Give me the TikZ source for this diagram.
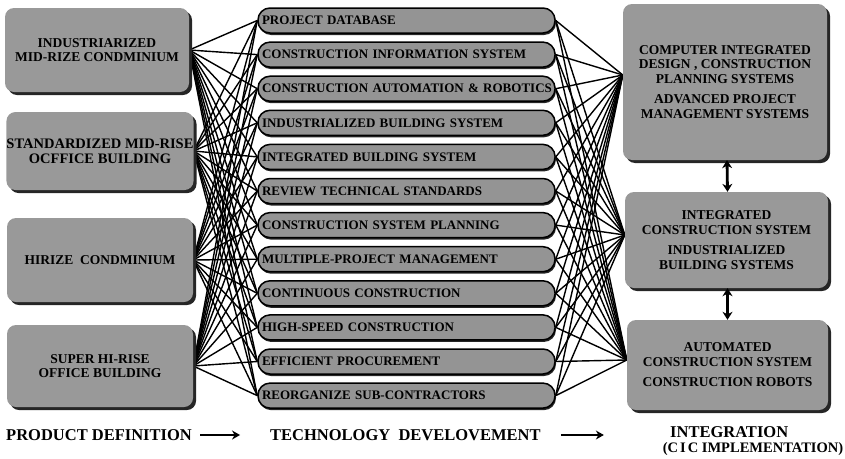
\documentclass[tikz,border=0pt]{standalone}
\usepackage{fontspec}
\setmainfont{Liberation Serif}
\usetikzlibrary{shadows,backgrounds,arrows.meta}
\begin{document}
\begin{tikzpicture}[x=1pt,y=-1pt,
  sidebox/.style={fill=black!40, rounded corners=9pt, inner sep=0pt, align=center,
     font=\bfseries\fontsize{13.5}{14.5}\selectfont,
     drop shadow={shadow xshift=3pt, shadow yshift=-3pt, fill=black!85, opacity=1}},
  pill/.style={fill=black!42, draw=black, line width=1.5pt, rounded corners=12pt,
     minimum height=25pt, text width=289pt, inner xsep=4pt, inner ysep=0pt, align=left,
     font=\bfseries\fontsize{13}{14}\selectfont,
     drop shadow={shadow xshift=1pt, shadow yshift=-2pt, fill=black!85, opacity=1}},
  link/.style={line width=1.4pt, black},
  dbl/.style={line width=2.8pt, {Stealth[length=8pt,width=10pt]}-{Stealth[length=8pt,width=10pt]}},
  caption/.style={font=\bfseries\fontsize{16.5}{17}\selectfont, inner sep=0pt},
  flow/.style={line width=1.5pt, -{Stealth[length=8pt,width=9pt]}}]
\useasboundingbox (0,0) rectangle (845,458);

% left boxes
\node[sidebox, minimum width=184pt, minimum height=84pt] (L1) at (97,50) {INDUSTRIARIZED\\MID-RIZE CONDMINIUM};
\node[sidebox, minimum width=186pt, minimum height=78pt, font=\bfseries\fontsize{14.5}{15}\selectfont] (L2) at (100,151) {STANDARDIZED MID-RISE\\OCFFICE BUILDING};
\node[sidebox, minimum width=186pt, minimum height=84pt] (L3) at (100,260) {HIRIZE\ \ CONDMINIUM};
\node[sidebox, minimum width=186pt, minimum height=82pt] (L4) at (100,366) {SUPER HI-RISE\\OFFICE BUILDING};

% pills
\foreach \i/\t in {1/PROJECT DATABASE,
                   2/CONSTRUCTION INFORMATION SYSTEM,
                   3/CONSTRUCTION AUTOMATION \& ROBOTICS,
                   4/INDUSTRIALIZED BUILDING SYSTEM,
                   5/INTEGRATED BUILDING SYSTEM,
                   6/REVIEW TECHNICAL STANDARDS,
                   7/CONSTRUCTION SYSTEM PLANNING,
                   8/MULTIPLE-PROJECT MANAGEMENT,
                   9/CONTINUOUS CONSTRUCTION,
                   10/HIGH-SPEED CONSTRUCTION,
                   11/EFFICIENT PROCUREMENT,
                   12/REORGANIZE SUB-CONTRACTORS}
  \node[pill] (P\i) at (406.5,{20.5+34.1*(\i-1)}) {\makebox[289pt][l]{\t}};

% right boxes
\node[sidebox, minimum width=204pt, minimum height=156pt] (R1) at (725,82)
  {COMPUTER INTEGRATED\\DESIGN , CONSTRUCTION\\PLANNING SYSTEMS\\[6pt]ADVANCED PROJECT\\MANAGEMENT SYSTEMS};
\node[sidebox, minimum width=203pt, minimum height=96pt] (R2) at (726.5,240)
  {INTEGRATED\\CONSTRUCTION SYSTEM\\[6pt]INDUSTRIALIZED\\BUILDING SYSTEMS};
\node[sidebox, minimum width=201pt, minimum height=90pt] (R3) at (727.5,365)
  {AUTOMATED\\CONSTRUCTION SYSTEM\\[6pt]CONSTRUCTION ROBOTS};

% connectors
\begin{scope}[on background layer]
\foreach \l in {L1,L2,L3,L4}
  \foreach \p in {1,...,12}
    \draw[link] (\l.east) -- (P\p.west);
\foreach \p in {1,...,12}{
  \draw[link] (P\p.east) -- ([yshift=7pt]R1.west);
  \draw[link] (P\p.east) -- ([yshift=5pt]R2.west);
  \draw[link] (P\p.east) -- ([yshift=5pt]R3.west);
}
\end{scope}

\draw[dbl] ([xshift=2pt]R1.south) -- ([xshift=1pt]R2.north);
\draw[dbl] ([xshift=1pt]R2.south) -- ([xshift=0pt]R3.north);

% bottom captions
\node[caption, anchor=west] (C1) at (6,435) {PRODUCT DEFINITION};
\node[caption, anchor=west] (C2) at (270,435) {TECHNOLOGY\ \ DEVELOVEMENT};
\node[caption, anchor=west] (C3) at (670,432) {INTEGRATION};
\node[caption, anchor=center, font=\bfseries\fontsize{14.5}{15}\selectfont] (C4) at (753,449) {(C\hspace{2pt}I\hspace{2pt}C IMPLEMENTATION)};
\draw[flow] ([xshift=8pt]C1.east) -- ([xshift=48pt]C1.east);
\draw[flow] ([xshift=20pt]C2.east) -- ([xshift=63pt]C2.east);
\end{tikzpicture}
\end{document}
